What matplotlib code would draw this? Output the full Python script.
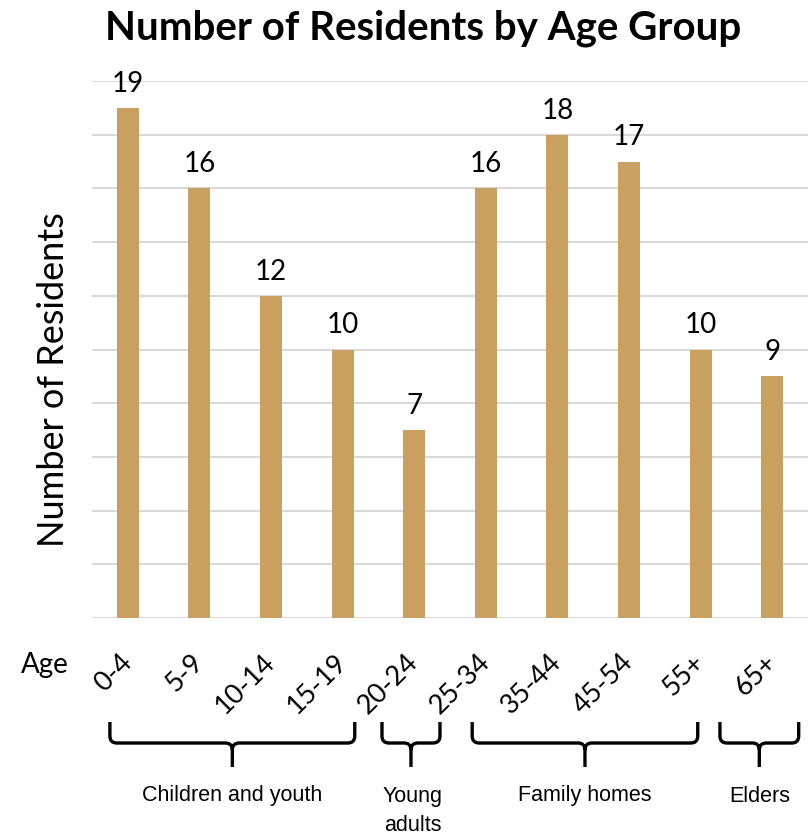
import matplotlib.pyplot as plt
from matplotlib.path import Path
from matplotlib.patches import PathPatch
from matplotlib.transforms import blended_transform_factory

# Residents per age bracket
ages = ['0-4', '5-9', '10-14', '15-19', '20-24', '25-34', '35-44', '45-54', '55+', '65+']
residents = [19, 16, 12, 10, 7, 16, 18, 17, 10, 9]

# Bracket groups shown under the age labels
group_names = ['Children and youth', 'Young\nadults', 'Family homes', 'Elders']

# horizontal extent of each bracket, in bar units
brace_left = [-0.25, 3.55, 4.81, 8.27]
brace_right = [3.17, 4.36, 7.96, 9.37]

bar_color = '#C9A060'
geo_font = 'Lato'

W, H = 808, 835
fig = plt.figure(figsize=(W / 100, H / 100), dpi=100)
ax = fig.add_axes([92 / W, 217 / H, 716 / W, 537 / H])

x = list(range(len(ages)))
ax.bar(x, residents, width=0.31, color=bar_color, zorder=3)
ax.set_xlim(-0.5, len(ages) - 0.5)
ax.set_ylim(0, 20)

# value labels above the bars
for xi, v in zip(x, residents):
    ax.annotate(str(v), (xi, v), xytext=(0, 8), textcoords='offset points',
                ha='center', va='bottom', fontsize=20, family=geo_font,
                annotation_clip=False)

ax.set_yticks(range(0, 21, 2))
ax.yaxis.grid(True, color='#D9D9D9', linewidth=1.5, zorder=0)
ax.tick_params(axis='y', length=0, labelleft=False)
for s in ax.spines.values():
    s.set_visible(False)

ax.set_xticks(x)
ax.set_xticklabels(ages, fontsize=19.5, family=geo_font)
ax.tick_params(axis='x', length=0, pad=29)
plt.setp(ax.get_xticklabels(), rotation=45, ha='right', va='center',
         rotation_mode='anchor')

ax.set_ylabel('Number of Residents', fontsize=26, family=geo_font)
ax.yaxis.set_label_coords(-22 / 716, (618 - 380) / 537)

fig.text(423 / W, 1 - 28 / H, 'Number of Residents by Age Group',
         ha='center', va='center', fontsize=29, fontweight='bold', family=geo_font)
fig.text(45 / W, 1 - 665 / H, 'Age', ha='center', va='center',
         fontsize=20, family=geo_font)

# curly brackets under each group
trans = blended_transform_factory(ax.transData, fig.transFigure)
y_top = 1 - 722 / H
y_mid = 1 - 743 / H
y_bot = 1 - 767 / H
ry = 7 / H
rx = 7 / 71.6
for name, xl, xr in zip(group_names, brace_left, brace_right):
    xc = (xl + xr) / 2
    verts = [(xl, y_top), (xl, y_mid + ry), (xl, y_mid), (xl + rx, y_mid),
             (xc - rx, y_mid), (xc, y_mid), (xc, y_mid - ry), (xc, y_bot),
             (xc, y_mid - ry), (xc, y_mid), (xc + rx, y_mid),
             (xr - rx, y_mid), (xr, y_mid), (xr, y_mid + ry), (xr, y_top)]
    codes = [Path.MOVETO, Path.LINETO, Path.CURVE3, Path.CURVE3,
             Path.LINETO, Path.CURVE3, Path.CURVE3, Path.LINETO,
             Path.MOVETO, Path.CURVE3, Path.CURVE3,
             Path.LINETO, Path.CURVE3, Path.CURVE3, Path.LINETO]
    fig.add_artist(PathPatch(Path(verts, codes), transform=trans, fill=False,
                             edgecolor='black', linewidth=2.4, clip_on=False))
    two_lines = '\n' in name
    ty = 1 - (811 if two_lines else 796) / H
    tx = ax.transData.transform((xc, 0))[0] / W + (2 / W if two_lines else 0)
    fig.text(tx, ty, name, ha='center', va='center', fontsize=15.5,
             family='Liberation Sans', linespacing=1.45)

fig.savefig('out.png', dpi=100)
